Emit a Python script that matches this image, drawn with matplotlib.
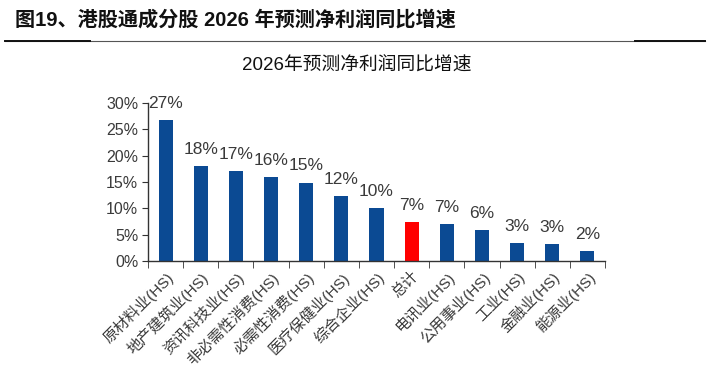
import matplotlib
matplotlib.use("Agg")
import matplotlib.pyplot as plt
from matplotlib.lines import Line2D
import numpy as np

categories = ["原材料业(HS)", "地产建筑业(HS)", "资讯科技业(HS)", "非必需性消费(HS)",
              "必需性消费(HS)", "医疗保健业(HS)", "综合企业(HS)", "总计", "电讯业(HS)",
              "公用事业(HS)", "工业(HS)", "金融业(HS)", "能源业(HS)"]
values = [26.8, 18.1, 17.1, 16.0, 14.9, 12.3, 10.1, 7.4, 7.0, 5.8, 3.4, 3.3, 1.9]
labels = ["27%", "18%", "17%", "16%", "15%", "12%", "10%", "7%", "7%", "6%", "3%", "3%", "2%"]
highlight = "总计"
yticks = [0, 5, 10, 15, 20, 25, 30]

FONT = ["Liberation Sans", "Noto Sans CJK SC", "DejaVu Sans"]
plt.rcParams["font.family"] = FONT

BLUE = "#0B4A93"
RED = "#FF0000"
TXT = "#3A3A3A"

fig = plt.figure(figsize=(7.13, 3.70), dpi=100)
fig.patch.set_facecolor("white")

# header
fig.text(15 / 713, 1 - 20 / 370, "图19、港股通成分股 2026 年预测净利润同比增速",
         fontsize=14.5, fontweight="bold", color="#111111", va="center", ha="left",
         family=["Liberation Sans", "Noto Sans CJK SC"])
fig.add_artist(Line2D([5 / 713, 705 / 713], [1 - 41 / 370, 1 - 41 / 370],
                      transform=fig.transFigure, color="#555555", lw=0.8))
fig.add_artist(Line2D([5 / 713, 90 / 713], [1 - 41 / 370, 1 - 41 / 370],
                      transform=fig.transFigure, color="#111111", lw=1.4))
fig.add_artist(Line2D([635 / 713, 705 / 713], [1 - 41 / 370, 1 - 41 / 370],
                      transform=fig.transFigure, color="#111111", lw=1.4))

# chart title
fig.text(357 / 713, 1 - 66 / 370, "2026年预测净利润同比增速", fontsize=13.5,
         color="#111111", ha="center", va="center")

ax = fig.add_axes([148 / 713, 1 - 261 / 370, (605 - 148) / 713, (261 - 103) / 370])
x = np.arange(len(categories))
colors = [RED if c == highlight else BLUE for c in categories]
ax.bar(x, values, width=0.4, color=colors, zorder=2)
for xi, v, lab in zip(x, values, labels):
    ax.annotate(lab, (xi, v), xytext=(0, 6.5), textcoords="offset points",
                ha="center", va="bottom", fontsize=12.5, color=TXT, clip_on=False)

ax.set_xlim(-0.5, len(categories) - 0.5)
ax.set_ylim(0, 30)
ax.set_yticks(yticks)
ax.set_yticklabels([f"{t}%" for t in yticks], fontsize=11.5, color=TXT)
ax.set_xticks(x)
ax.set_xticklabels(categories, rotation=45, ha="right", va="top",
                   rotation_mode="anchor", fontsize=11, color=TXT)
ax.tick_params(axis="x", length=0, pad=6)
ax.set_xticks(np.arange(len(categories) + 1) - 0.5, minor=True)
ax.tick_params(axis="x", which="minor", length=5, color="#333333", direction="out")
ax.tick_params(axis="y", length=4, color="#333333", direction="out", pad=3)
for s in ["top", "right"]:
    ax.spines[s].set_visible(False)
for s in ["left", "bottom"]:
    ax.spines[s].set_color("#333333")
    ax.spines[s].set_linewidth(1.0)

fig.savefig("out.png", dpi=100)
